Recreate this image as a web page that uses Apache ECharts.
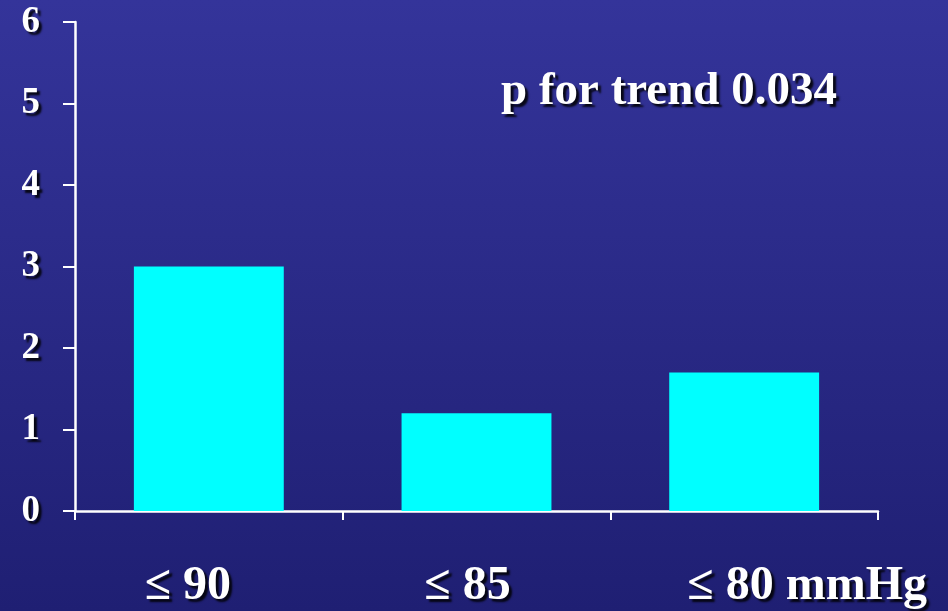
<!DOCTYPE html>
<html>
<head>
<meta charset="utf-8">
<script src="https://cdn.jsdelivr.net/npm/echarts@6/dist/echarts.min.js"></script>
<style>html,body{margin:0;padding:0;}#c{width:948px;height:611px;}</style>
</head>
<body>
<div id="c"></div>
<script>
const categories = ['≤ 90', '≤ 85', '≤ 80 mmHg'];
const values = [3.0, 1.2, 1.7];
const yTicks = [0, 1, 2, 3, 4, 5, 6];
const annotation = 'p for trend 0.034';

const FONT = '"Liberation Serif", "Times New Roman", serif';
const shadow = { textShadowColor: 'rgba(0,0,0,0.85)', textShadowOffsetX: 3, textShadowOffsetY: 3, textShadowBlur: 2 };
const padsBefore = [0, 0, 126];
const padsAfter = [42, 18, 0];

const chart = echarts.init(document.getElementById('c'));
chart.setOption({
  backgroundColor: {
    type: 'linear', x: 0, y: 0, x2: 0, y2: 1,
    colorStops: [{ offset: 0, color: '#34349a' }, { offset: 1, color: '#1f1f73' }]
  },
  animation: false,
  grid: { left: 75, right: 70, top: 22, bottom: 100, containLabel: false },
  title: {
    text: annotation, left: 496, top: 63,
    textStyle: Object.assign({ color: '#ffffff', fontFamily: FONT, fontWeight: 'bold', fontSize: 47 }, shadow)
  },
  xAxis: {
    type: 'category', data: categories,
    axisLine: { lineStyle: { color: '#ffffff', width: 2.5 } },
    axisTick: { show: true, length: 9, lineStyle: { color: '#ffffff', width: 2 } },
    axisLabel: {
      margin: 52,
      formatter: function (v, i) {
        const pre = padsBefore[i] ? '{p' + i + 'a|}' : '';
        const post = padsAfter[i] ? '{p' + i + 'b|}' : '';
        return pre + '{t|' + v + '}' + post;
      },
      rich: {
        t: Object.assign({ color: '#ffffff', fontFamily: FONT, fontWeight: 'bold', fontSize: 48 }, shadow),
        p0b: { width: padsAfter[0] }, p1b: { width: padsAfter[1] }, p2a: { width: padsBefore[2] }
      }
    }
  },
  yAxis: {
    type: 'value', min: yTicks[0], max: yTicks[yTicks.length - 1], interval: 1,
    splitLine: { show: false },
    axisLine: { show: true, lineStyle: { color: '#ffffff', width: 2.5 } },
    axisTick: { show: true, length: 12, lineStyle: { color: '#ffffff', width: 2 } },
    axisLabel: Object.assign({ color: '#ffffff', fontFamily: FONT, fontWeight: 'bold', fontSize: 37, margin: 35 }, shadow)
  },
  series: [{
    type: 'bar', data: values, barWidth: '56%',
    itemStyle: { color: '#00ffff' }
  }]
});
</script>
</body>
</html>
